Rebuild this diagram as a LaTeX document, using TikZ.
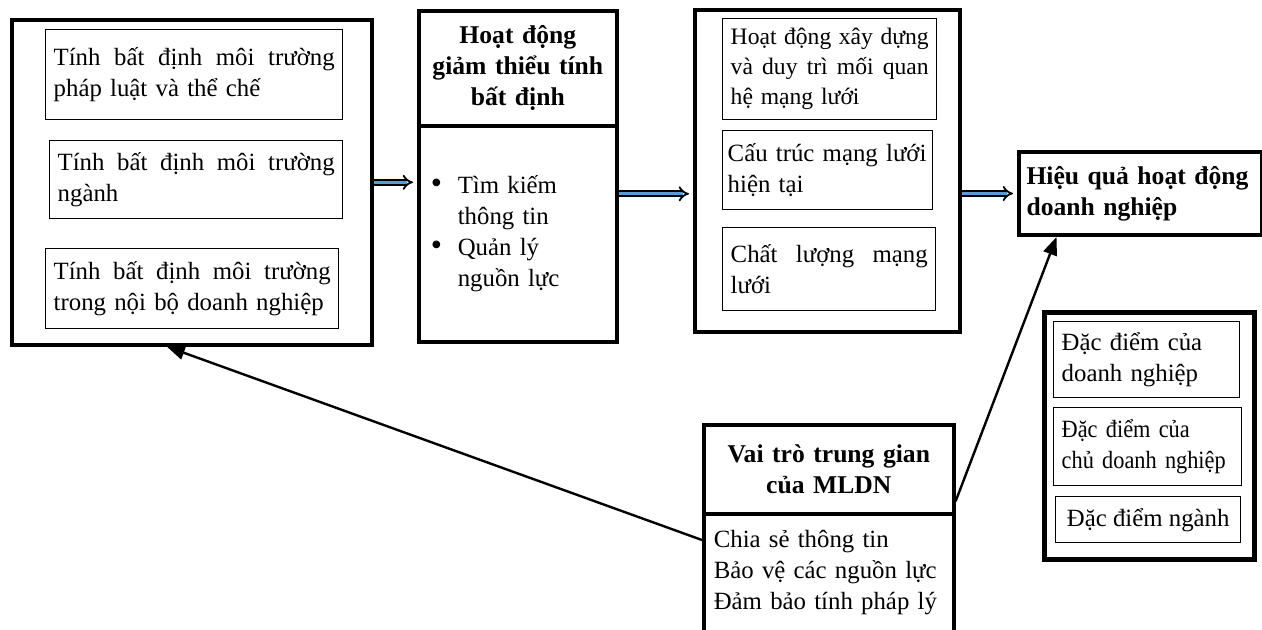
\documentclass[tikz,border=0pt]{standalone}
\usepackage{fontspec}
\setmainfont{Liberation Serif}
\newfontfamily\narrowserif[FakeStretch=0.9]{Liberation Serif}
\usetikzlibrary{arrows.meta}

\definecolor{arrowblue}{RGB}{91,155,213}
\newcommand{\diagfont}{\fontsize{12.4pt}{15.5pt}\selectfont}
\newcommand{\spreadline}[1]{\makebox[\hsize][s]{\spaceskip=.25em plus 1fil\relax #1}}
\newcommand{\bul}{\makebox[13.5pt][l]{\fontsize{16pt}{15.5pt}\selectfont\textbullet}}

\begin{document}
\begin{tikzpicture}[x=0.5pt, y=-0.5pt,
	every node/.style={font=\diagfont},
	outerbox/.style={draw, line width=1.8pt, anchor=north west, inner sep=0pt},
	inbox/.style={draw, line width=0.7pt, anchor=north west, inner xsep=4pt, inner ysep=2pt, align=left},
	headbox/.style={draw, line width=1.8pt, anchor=north west, inner xsep=2pt, font=\fontsize{12.8pt}{15.5pt}\selectfont\bfseries, align=center},
	dblarrow/.style={line width=0.9pt, double=arrowblue, double distance=1.6pt, -{Implies}, shorten >=2pt},
	longarrow/.style={line width=1.2pt, -{Triangle[length=9pt,width=7pt]}}]
	
	\useasboundingbox (0,0) rectangle (1262,629);
	\clip (0,0) rectangle (1262,629);
	
	\node[outerbox, minimum width=180pt, minimum height=162.5pt] (env) at (10,18) {};
	\node[inbox, text width=140.5pt, minimum height=45pt] (envlaw) at (45,29) {\spreadline{Tính bất định môi trường}\\pháp luật và thể chế};
	\node[inbox, text width=138.5pt, minimum height=39pt] (envind) at (49,140) {\spreadline{Tính bất định môi trường}\\ngành};
	\node[inbox, text width=138.5pt, minimum height=40pt] (envint) at (45,248) {\spreadline{Tính bất định môi trường}\\trong nội bộ doanh nghiệp};
	
	\node[headbox, minimum width=99pt, minimum height=57.5pt, text width=95pt] (acthead) at (417,9) {Hoạt động\\giảm thiểu tính\\bất định};
	\node[outerbox, minimum width=99pt, minimum height=108pt, text width=87pt, inner xsep=6pt, align=left] (actbody) at (417,124) {\bul Tìm kiếm\\\hspace*{13.5pt}thông tin\\\bul Quản lý\\\hspace*{13.5pt}nguồn lực};
	
	\node[outerbox, minimum width=132.5pt, minimum height=161pt] (net) at (693,8) {};
	\node[inbox, text width=99pt, minimum height=50.5pt, font=\fontsize{11.8pt}{15pt}\selectfont] (netact) at (722,18) {\spreadline{Hoạt động xây dựng}\\\spreadline{và duy trì mối quan}\\hệ mạng lưới};
	\node[inbox, text width=100pt, inner xsep=2.5pt, minimum height=39.5pt] (netstr) at (722,130) {Cấu trúc mạng lưới\\hiện tại};
	\node[inbox, text width=98.5pt, minimum height=41.5pt] (netqual) at (722,227) {\spreadline{Chất lượng mạng}\\lưới};
	
	\node[headbox, line width=2pt, align=left, text width=114pt, inner xsep=3.75pt, minimum height=41.5pt] (perf) at (1017,150) {Hiệu quả hoạt động\\doanh nghiệp};
	
	\node[outerbox, line width=2.4pt, minimum width=105pt, minimum height=123.5pt] (ctrl) at (1042,310) {};
	\node[inbox, text width=85pt, minimum height=38pt] (ctrlfirm) at (1053,321) {Đặc điểm của\\doanh nghiệp};
	\node[inbox, text width=86pt, minimum height=39pt, font=\diagfont\narrowserif] (ctrlowner) at (1053,407) {Đặc điểm của\\chủ doanh nghiệp};
	\node[inbox, minimum width=92.5pt, minimum height=23pt, align=center] (ctrlind) at (1055,496) {Đặc điểm ngành};
	
	\node[headbox, minimum width=125pt, minimum height=44.5pt, text width=121pt] (medhead) at (702,423) {Vai trò trung gian\\của MLDN};
	\node[outerbox, minimum width=125pt, text width=115pt, inner xsep=5pt, inner ysep=8pt, text depth=80pt, align=left] (medbody) at (702,512) {Chia sẻ thông tin\\Bảo vệ các nguồn lực\\Đảm bảo tính pháp lý};
	
	\draw[dblarrow] (env.east) -- (env.east -| actbody.west);
	\draw[dblarrow] ([yshift=-11.5pt]net.west -| actbody.east) -- ([yshift=-11.5pt]net.west);
	\draw[dblarrow] (perf.west -| net.east) -- (perf.west);
	
	\draw[longarrow] ([yshift=-14pt]medbody.north west) -- ([xshift=-12.5pt]env.south);
	\draw[longarrow] ([yshift=-16pt]medhead.east) -- ([xshift=-42pt]perf.south);
	
\end{tikzpicture}
\end{document}
